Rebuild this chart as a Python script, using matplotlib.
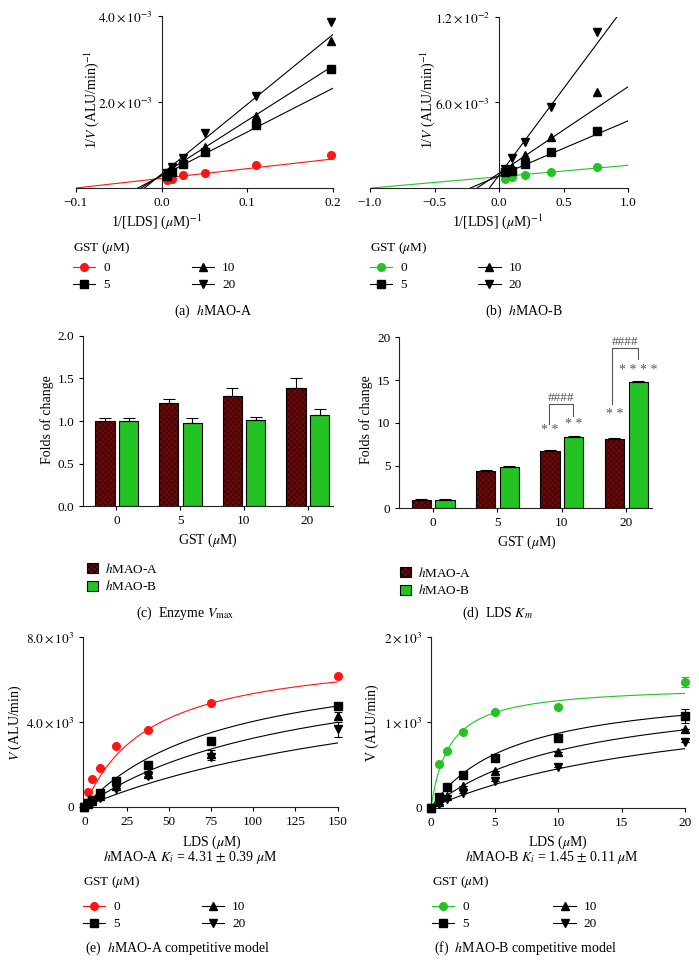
import matplotlib.pyplot as plt
import numpy as np
from matplotlib.lines import Line2D
from matplotlib.patches import Patch

plt.rcParams['font.family'] = ['Liberation Serif', 'DejaVu Serif']
plt.rcParams['mathtext.fontset'] = 'stix'
plt.rcParams['font.size'] = 9.5
plt.rcParams['axes.linewidth'] = 0.8
plt.rcParams['axes.edgecolor'] = '#222222'
plt.rcParams['xtick.major.width'] = 0.8
plt.rcParams['ytick.major.width'] = 0.8
plt.rcParams['xtick.major.size'] = 3
plt.rcParams['ytick.major.size'] = 3
plt.rcParams['hatch.linewidth'] = 0.5

# ---- data ----
gst = [0, 5, 10, 20]
gst_labels = ['0', '5', '10', '20']

# (a) Lineweaver-Burk hMAO-A, 1/V in 1e-3 units
inv_lds_a = [0.006, 0.012, 0.025, 0.051, 0.11, 0.198]
inv_v_a0 = [0.18, 0.20, 0.30, 0.36, 0.54, 0.76]
inv_v_a5 = [0.28, 0.38, 0.56, 0.83, 1.46, 2.76]
inv_v_a10 = [0.31, 0.43, 0.63, 0.96, 1.68, 3.42]
inv_v_a20 = [0.34, 0.50, 0.70, 1.27, 2.13, 3.87]
lb_slope_a = [2.25, 10.18, 12.68, 16.23]
lb_icpt_a = [0.225, 0.285, 0.304, 0.325]

# (b) Lineweaver-Burk hMAO-B
inv_lds_b = [0.05, 0.1, 0.2, 0.4, 0.76]
inv_v_b0 = [0.66, 0.80, 0.88, 1.10, 1.47]
inv_v_b5 = [1.12, 1.20, 1.70, 2.53, 4.0]
inv_v_b10 = [1.24, 1.47, 2.28, 3.58, 6.71]
inv_v_b20 = [1.36, 2.10, 3.20, 5.64, 10.95]
lb_slope_b = [0.80, 3.85, 6.06, 12.13]
lb_icpt_b = [0.79, 0.85, 1.03, 0.90]

# (c) Vmax folds of change
vmax_a = [1.00, 1.21, 1.29, 1.39]
vmax_a_err = [0.035, 0.047, 0.094, 0.11]
vmax_b = [1.00, 0.98, 1.01, 1.07]
vmax_b_err = [0.03, 0.06, 0.04, 0.07]

# (d) Km folds of change
km_a = [1.0, 4.37, 6.74, 8.11]
km_a_err = [0.08, 0.08, 0.12, 0.12]
km_b = [1.0, 4.87, 8.38, 14.8]
km_b_err = [0.08, 0.12, 0.06, 0.08]

# (e) hMAO-A velocities
lds_a = [0, 2.34, 4.69, 9.38, 18.75, 37.5, 75, 150]
v_a0 = [0, 706, 1289, 1835, 2856, 3609, 4894, 6165]
v_a5 = [0, 180, 314, 629, 1224, 1962, 3092, 4738]
v_a10 = [0, 130, 250, 520, 960, 1560, 2500, 4267]
v_a20 = [0, 100, 200, 430, 830, 1440, 2330, 3640]
v_a20_err = [0, 20, 30, 40, 60, 100, 150, 350]
v_a10_err = [0, 20, 30, 40, 60, 100, 150, 200]
fit_vmax_a, fit_km_a, ki_a = 7400, 39.0, 4.31

# (f) hMAO-B velocities
lds_b = [0, 0.625, 1.25, 2.5, 5, 10, 20]
v_b0 = [0, 511, 667, 889, 1119, 1181, 1466]
v_b5 = [0, 129, 238, 382, 585, 811, 1076]
v_b10 = [0, 70, 136, 257, 429, 655, 924]
v_b20 = [0, 39, 101, 175, 316, 480, 764]
v_b0_err = [0, 10, 10, 15, 15, 15, 60]
v_b5_err = [0, 10, 10, 15, 15, 20, 80]
fit_vmax_b, fit_km_b, ki_b = 1434, 1.455, 1.45

red = '#ff1414'
green = '#22c322'
maroon = '#6a0a0a'
markers = ['o', 's', '^', 'v']
FS = 10

W, H = 699, 975
fig = plt.figure(figsize=(W / 100, H / 100), dpi=100)


def box(l, t, r, b):
    return [l / W, 1 - b / H, (r - l) / W, (b - t) / H]


def txt(x, y, s, **kw):
    fig.text(x / W, 1 - y / H, s, ha=kw.pop('ha', 'center'),
             va=kw.pop('va', 'center'), fontsize=kw.pop('fontsize', FS), **kw)


def clean(ax):
    ax.spines['top'].set_visible(False)
    ax.spines['right'].set_visible(False)


def line_legend(x, y_title, y_row, c0, gap):
    # title drawn separately so the gap to the first row can be matched
    txt(x, y_title, 'GST ($\\mu$M)', ha='left', fontsize=9.5)
    hs = [Line2D([0], [0], color=c0 if i == 0 else 'black', marker=m,
                 ms=5.5, lw=0.8) for i, m in enumerate(markers)]
    fig.legend(hs, gst_labels, ncol=2, loc='upper left',
               bbox_to_anchor=(x / W, 1 - (y_row - 7) / H), frameon=False,
               handlelength=1.7, handletextpad=0.6, columnspacing=gap,
               labelspacing=0.38, borderpad=0, borderaxespad=0, fontsize=9.5)


def bar_legend(x, y):
    hs = [Patch(facecolor=maroon, edgecolor='black', hatch='xxxxxx', lw=0.8),
          Patch(facecolor=green, edgecolor='black', lw=0.8)]
    fig.legend(hs, ['$h$MAO-A', '$h$MAO-B'], loc='upper left',
               bbox_to_anchor=(x / W, 1 - y / H), frameon=False,
               handlelength=0.8, handleheight=0.8, handletextpad=0.6,
               labelspacing=0.25, borderpad=0, borderaxespad=0, fontsize=9.5)


# ---- (a) and (b): double reciprocal plots ----
def lb_panel(rect, xs, ys_list, slopes, icpts, c0, xlim, ylim, yticks, ylabels, xticks):
    ax = fig.add_axes(rect)
    clean(ax)
    ax.spines['left'].set_position(('data', 0))
    for i, (ys, m) in enumerate(zip(ys_list, markers)):
        c = c0 if i == 0 else 'black'
        x0 = -icpts[i] / slopes[i]
        xx = np.array([x0, xlim[1]])
        ax.plot(xx, (slopes[i] * xx + icpts[i]) * 1e-3, color=c, lw=0.8)
        ax.plot(xs, np.array(ys) * 1e-3, ls='none', marker=m, color=c,
                ms=5.5, clip_on=False, zorder=3)
    ax.set_xlim(xlim)
    ax.set_ylim(ylim)
    ax.set_xticks(xticks)
    ax.set_yticks(yticks)
    ax.set_yticklabels(ylabels)
    return ax


ax = lb_panel(box(76, 16, 333, 188), inv_lds_a,
              [inv_v_a0, inv_v_a5, inv_v_a10, inv_v_a20], lb_slope_a, lb_icpt_a,
              red, (-0.1, 0.2), (0, 4e-3), [2e-3, 4e-3],
              ['$2.0\\times10^{-3}$', '$4.0\\times10^{-3}$'], [-0.1, 0.0, 0.1, 0.2])
ax.set_xticklabels(['\u22120.1', '0.0', '0.1', '0.2'])
txt(92, 100, '1/$V$ (ALU/min)$^{-1}$', rotation=90)
txt(157, 222, '1/[LDS] ($\\mu$M)$^{-1}$')
line_legend(73, 248, 269, red, 6.2)
txt(213, 311, '(a)  $h$MAO-A')

ax = lb_panel(box(370, 16.7, 628, 188), inv_lds_b,
              [inv_v_b0, inv_v_b5, inv_v_b10, inv_v_b20], lb_slope_b, lb_icpt_b,
              green, (-1.0, 1.0), (0, 12e-3), [6e-3, 12e-3],
              ['$6.0\\times10^{-3}$', '$1.2\\times10^{-2}$'], [-1.0, -0.5, 0.0, 0.5, 1.0])
ax.set_xticklabels(['\u22121.0', '\u22120.5', '0.0', '0.5', '1.0'])
txt(428, 100, '1/$V$ (ALU/min)$^{-1}$', rotation=90)
txt(498, 222, '1/[LDS] ($\\mu$M)$^{-1}$')
line_legend(370, 248, 269, green, 5.4)
txt(524, 311, '(b)  $h$MAO-B')


# ---- (c) and (d): bar charts ----
def bar_panel(rect, a, a_err, b, b_err, ylim, yticks):
    ax = fig.add_axes(rect)
    clean(ax)
    x = np.arange(len(gst))
    w = 0.3
    ax.bar(x - 0.18, a, w, color=maroon, edgecolor='#3a0000', hatch='xxxxxx', lw=0)
    ax.bar(x - 0.18, a, w, fill=False, edgecolor='black', lw=0.8)
    ax.bar(x + 0.19, b, w, color=green, edgecolor='black', lw=0.8)
    ax.errorbar(x - 0.18, a, yerr=[np.zeros(4), a_err], fmt='none',
                ecolor='black', elinewidth=0.8, capsize=4, capthick=0.8)
    ax.errorbar(x + 0.19, b, yerr=[np.zeros(4), b_err], fmt='none',
                ecolor='black', elinewidth=0.8, capsize=4, capthick=0.8)
    ax.set_xlim(-0.52, 3.4)
    ax.set_ylim(ylim)
    ax.set_yticks(yticks)
    ax.set_xticks(x)
    ax.set_xticklabels(gst_labels)
    return ax


ax = bar_panel(box(83.3, 335.7, 333, 506.3), vmax_a, vmax_a_err, vmax_b, vmax_b_err,
               (0, 2.0), [0.0, 0.5, 1.0, 1.5, 2.0])
ax.set_yticklabels(['0.0', '0.5', '1.0', '1.5', '2.0'])
txt(47, 420, 'Folds of change', rotation=90)
txt(208, 540, 'GST ($\\mu$M)')
bar_legend(87, 562)
txt(185, 613, '(c)  Enzyme $V_{\\rm max}$')

ax = bar_panel(box(399.3, 337.3, 651.7, 508.3), km_a, km_a_err, km_b, km_b_err,
               (0, 20), [0, 5, 10, 15, 20])
gray = '#555555'
ax.text(1.82, 9.1, '* *', ha='center', va='center', color=gray, fontsize=10)
ax.text(2.19, 9.8, '* *', ha='center', va='center', color=gray, fontsize=10)
ax.plot([1.81, 1.81, 2.17, 2.17], [9.9, 12.2, 12.2, 10.8], color=gray, lw=0.8)
ax.text(1.99, 12.9, '####', ha='center', va='center', color=gray, fontsize=9.5)
ax.text(2.82, 11.0, '* *', ha='center', va='center', color=gray, fontsize=10)
ax.plot([2.78, 2.78, 3.18, 3.18], [12.2, 18.7, 18.7, 17.5], color=gray, lw=0.8)
ax.text(2.98, 19.45, '####', ha='center', va='center', color=gray, fontsize=9.5)
ax.text(3.19, 16.1, '* * * *', ha='center', va='center', color=gray, fontsize=10)
txt(366, 420, 'Folds of change', rotation=90)
txt(527, 542, 'GST ($\\mu$M)')
bar_legend(400, 566)
txt(497, 613, '(d)  LDS $K_m$')


# ---- (e) and (f): Michaelis-Menten with competitive fit ----
def mm_panel(rect, s, vs_list, errs, vmax, km, ki, c0, xlim, ylim, xticks, yticks, ylabels):
    ax = fig.add_axes(rect)
    clean(ax)
    ss = np.linspace(0, xlim[1], 200)
    for i, (vs, m) in enumerate(zip(vs_list, markers)):
        c = c0 if i == 0 else 'black'
        kapp = km * (1 + gst[i] / ki)
        ax.plot(ss, vmax * ss / (kapp + ss), color=c, lw=0.8)
        e = errs[i] if errs[i] is not None else np.zeros(len(vs))
        ax.errorbar(s, vs, yerr=e, fmt=m, color=c, ms=5.5, elinewidth=0.8,
                    capsize=3, capthick=0.8, clip_on=False, zorder=3)
    ax.set_xlim(xlim)
    ax.set_ylim(ylim)
    ax.set_xticks(xticks)
    ax.set_yticks(yticks)
    ax.set_yticklabels(ylabels)
    return ax


mm_panel(box(83.3, 636.7, 337.7, 806.7), lds_a, [v_a0, v_a5, v_a10, v_a20],
         [None, None, v_a10_err, v_a20_err], fit_vmax_a, fit_km_a, ki_a, red,
         (-0.6, 150), (0, 8000), [0, 25, 50, 75, 100, 125, 150], [0, 4000, 8000],
         ['0', '$4.0\\times10^{3}$', '$8.0\\times10^{3}$'])
txt(15, 723, '$V$ (ALU/min)', rotation=90)
txt(212, 842, 'LDS ($\\mu$M)')
txt(190, 858, '$h$MAO-A $K_i$ = 4.31 $\\pm$ 0.39 $\\mu$M')
line_legend(83, 882, 908, red, 6.2)
txt(178, 948, '(e)  $h$MAO-A competitive model')

mm_panel(box(431, 636.7, 685, 807.7), lds_b, [v_b0, v_b5, v_b10, v_b20],
         [v_b0_err, v_b5_err, None, None], fit_vmax_b, fit_km_b, ki_b, green,
         (0, 20), (0, 2000), [0, 5, 10, 15, 20], [0, 1000, 2000],
         ['0', '$1\\times10^{3}$', '$2\\times10^{3}$'])
txt(372, 723, 'V (ALU/min)', rotation=90)
txt(558, 842, 'LDS ($\\mu$M)')
txt(552, 858, '$h$MAO-B $K_i$ = 1.45 $\\pm$ 0.11 $\\mu$M')
line_legend(432, 882, 908, green, 6.4)
txt(525, 948, '(f)  $h$MAO-B competitive model')

fig.savefig('out.png', dpi=100)
